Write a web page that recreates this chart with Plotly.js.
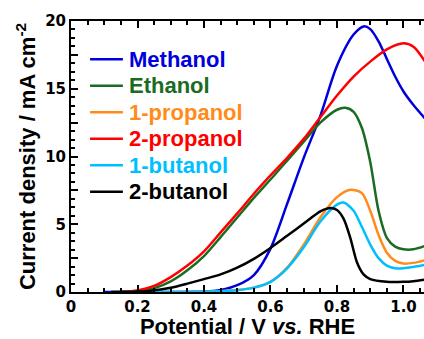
<!DOCTYPE html>
<html>
<head>
<meta charset="utf-8">
<script src="https://cdn.plot.ly/plotly-3.0.1.min.js"></script>
<style>html,body{margin:0;padding:0;background:#fff;}#chart{width:424px;height:339px;}</style>
</head>
<body>
<div id="chart"></div>
<script>
// ---- data ----
const names = ["Methanol", "Ethanol", "1-propanol", "2-propanol", "1-butanol", "2-butanol"];
const colors = ["#0000dd", "#1b6b22", "#ff8c1a", "#ff0000", "#00bfff", "#000000"];

const methanolX = [0.1,0.2,0.3,0.4,0.45,0.5,0.55,0.6,0.65,0.7,0.75,0.8,0.85,0.88,0.9,0.925,0.95,0.975,1.0,1.03,1.065];
const methanolY = [0,0,0,0.03,0.15,0.5,1.25,3.2,6.5,9.9,13.0,16.7,19.0,19.6,19.4,18.5,17.2,15.9,14.8,13.8,12.8];

const ethanolX = [0.15,0.2,0.25,0.3,0.35,0.4,0.45,0.5,0.55,0.6,0.65,0.7,0.75,0.8,0.825,0.85,0.875,0.9,0.925,0.95,0.975,1.0,1.03,1.065];
const ethanolY = [0.01,0.07,0.28,0.78,1.6,2.65,4.05,5.5,6.95,8.3,9.7,11.1,12.5,13.45,13.6,13.3,12.1,9.6,6.0,4.0,3.35,3.15,3.15,3.4];

const propanol1X = [0.12,0.3,0.4,0.45,0.5,0.55,0.6,0.65,0.7,0.75,0.8,0.84,0.875,0.9,0.925,0.95,0.975,1.0,1.03,1.065];
const propanol1Y = [0,0,0.02,0.06,0.14,0.32,0.75,1.8,3.5,5.5,7.0,7.55,7.3,6.0,4.2,2.9,2.3,2.1,2.15,2.35];

const propanol2X = [0.15,0.2,0.25,0.3,0.35,0.4,0.45,0.5,0.55,0.6,0.65,0.7,0.75,0.8,0.85,0.9,0.95,1.0,1.03,1.065];
const propanol2Y = [0.02,0.12,0.45,1.1,1.95,3.0,4.4,5.8,7.25,8.6,9.9,11.3,12.9,14.5,15.9,17.0,17.9,18.35,18.1,17.0];

const butanol1X = [0.12,0.3,0.4,0.45,0.5,0.55,0.6,0.65,0.7,0.75,0.8,0.82,0.85,0.875,0.9,0.925,0.95,0.975,1.0,1.03,1.065];
const butanol1Y = [0,0,0.02,0.05,0.13,0.32,0.75,1.75,3.3,5.2,6.45,6.6,6.0,4.8,3.5,2.5,1.95,1.75,1.75,1.85,2.0];

const butanol2X = [0.12,0.2,0.25,0.3,0.35,0.4,0.45,0.5,0.55,0.6,0.65,0.7,0.75,0.78,0.8,0.82,0.84,0.86,0.88,0.9,0.95,1.0,1.03,1.065];
const butanol2Y = [0,0.03,0.12,0.32,0.62,0.95,1.3,1.8,2.45,3.25,4.15,5.05,5.95,6.2,6.05,5.4,4.0,2.2,1.3,0.95,0.75,0.75,0.8,0.92];

const xTickVals = [0,0.2,0.4,0.6,0.8,1.0];
const xTickText = ["0","0.2","0.4","0.6","0.8","1.0"];
const yTickVals = [0,2.5,5,7.5,10,12.5,15,17.5,20];
const yTickText = ["0"," ","5"," ","10"," ","15"," ","20"];

const seriesX = [methanolX, ethanolX, propanol1X, propanol2X, butanol1X, butanol2X];
const seriesY = [methanolY, ethanolY, propanol1Y, propanol2Y, butanol1Y, butanol2Y];

const traces = names.map((n, i) => ({
  x: seriesX[i], y: seriesY[i],
  type: "scatter", mode: "lines",
  name: n, showlegend: false,
  line: {color: colors[i], width: 2.5, shape: "spline", smoothing: 0.8}
}));

// legend drawn as paper-positioned annotations + short line shapes
const legTop = 0.859, legStep = 0.0978;
const legLineX0 = 0.054, legLineX1 = 0.147, legTextX = 0.158;
const annotations = names.map((n, i) => ({
  xref: "paper", yref: "paper", x: legTextX, y: legTop - i * legStep,
  xanchor: "left", yanchor: "middle", showarrow: false, text: n,
  font: {family: "Liberation Sans", size: 22, weight: "bold", color: colors[i]}
}));
const shapes = names.map((n, i) => ({
  type: "line", xref: "paper", yref: "paper",
  x0: legLineX0, x1: legLineX1, y0: legTop - i * legStep, y1: legTop - i * legStep,
  line: {color: colors[i], width: 2.5}
}));

const tickFont = {family: "DejaVu Sans", size: 15, color: "#000", weight: "bold"};
const titleFont = {family: "Liberation Sans", size: 22, color: "#000", weight: "bold"};

const layout = {
  width: 424, height: 339,
  margin: {l: 71, r: 0, t: 21, b: 47},
  paper_bgcolor: "#fff", plot_bgcolor: "#fff",
  showlegend: false,
  annotations: annotations,
  shapes: shapes,
  xaxis: {
    range: [0, 1.0617],
    tickmode: "array", tickvals: xTickVals, ticktext: xTickText,
    ticks: "inside", ticklen: 7, tickwidth: 2, tickcolor: "#000",
    minor: {ticks: "inside", ticklen: 4, tickwidth: 2, tickcolor: "#000", dtick: 0.05, tick0: 0},
    showline: true, linewidth: 2, linecolor: "#000", mirror: "ticks",
    showgrid: false, zeroline: false,
    tickfont: tickFont,
    title: {text: "Potential / V <i>vs.</i> RHE", font: titleFont, standoff: 7}
  },
  yaxis: {
    range: [0, 20],
    tickmode: "array", tickvals: yTickVals, ticktext: yTickText,
    ticks: "inside", ticklen: 7, tickwidth: 2, tickcolor: "#000",
    minor: {ticks: "inside", ticklen: 4, tickwidth: 2, tickcolor: "#000", dtick: 0.625, tick0: 0},
    showline: true, linewidth: 2, linecolor: "#000", mirror: false,
    showgrid: false, zeroline: false,
    tickfont: tickFont,
    title: {text: "Current density / mA cm<sup>-2</sup>", font: titleFont, standoff: 3}
  }
};

Plotly.newPlot("chart", traces, layout, {displayModeBar: false, staticPlot: true});
</script>
</body>
</html>
